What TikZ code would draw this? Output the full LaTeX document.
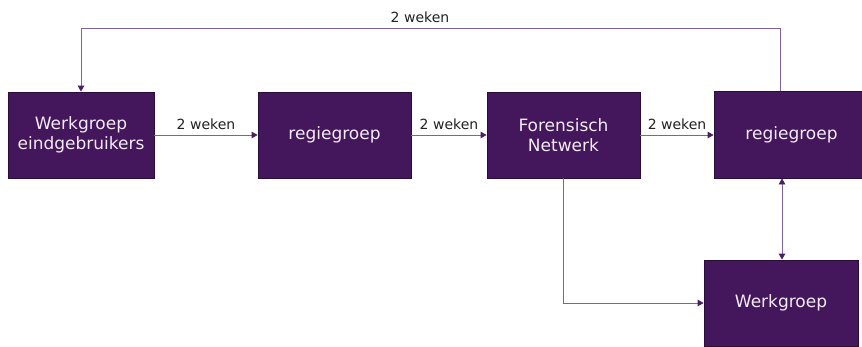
\documentclass[tikz,border=0pt]{standalone}
\usepackage{fontspec}
\setmainfont{DejaVu Sans}
\usetikzlibrary{arrows.meta}
\definecolor{boxfill}{HTML}{44165B}
\definecolor{boxline}{HTML}{2B0D3B}
\definecolor{linecol}{HTML}{80619C}
\definecolor{tipcol}{HTML}{4A1D63}
\definecolor{boxtext}{HTML}{F2ECF6}
\definecolor{labtext}{HTML}{222222}
\begin{document}
\begin{tikzpicture}[x=1pt,y=-1pt,
  blok/.style={draw=boxline, line width=0.8pt, fill=boxfill, text=boxtext,
    inner sep=0pt, align=center, font=\fontsize{17}{20}\selectfont},
  pijl/.style={draw=linecol, line width=0.8pt,
    -{Triangle[length=6pt,width=6.5pt,color=tipcol]}},
  dubbel/.style={draw=linecol, line width=0.8pt,
    {Triangle[length=6pt,width=6.5pt,color=tipcol]}-{Triangle[length=6pt,width=6.5pt,color=tipcol]}},
  lab/.style={font=\fontsize{14}{16}\selectfont, text=labtext, inner sep=0pt}]
\useasboundingbox (0,0) rectangle (862,346);
\fill[white] (0,0) rectangle (862,346);
\node[blok, minimum width=146pt, minimum height=86pt] (a) at (81,135) {Werkgroep\\eindgebruikers};
\node[blok, minimum width=153pt, minimum height=86pt] (b) at (334.5,135) {regiegroep};
\node[blok, minimum width=153pt, minimum height=86pt] (c) at (563.5,135) {Forensisch\\Netwerk};
\node[blok, minimum width=155pt, minimum height=87pt] (d) at (791.5,134.5) {regiegroep};
\node[blok, minimum width=154pt, minimum height=86pt] (e) at (781,303) {Werkgroep};
\draw[pijl] (a.east) -- node[lab, above=5pt] {2 weken} (b.west);
\draw[pijl] (b.east) -- node[lab, above=5pt] {2 weken} (c.west);
\draw[pijl] (c.east) -- node[lab, above=5pt] {2 weken} (c.east -| d.west);
\coordinate (fr) at (780,28);
\coordinate (fl) at (81,28);
\draw[pijl] (d.north -| fr) -- (fr) -- (fl) -- (a.north);
\node[lab, above=5pt] (top) at (420,28) {2 weken};
\draw[pijl] (c.south) |- (e.west);
\coordinate (dx) at (782,0);
\draw[dubbel] (d.south -| dx) -- (e.north -| dx);
\end{tikzpicture}
\end{document}
